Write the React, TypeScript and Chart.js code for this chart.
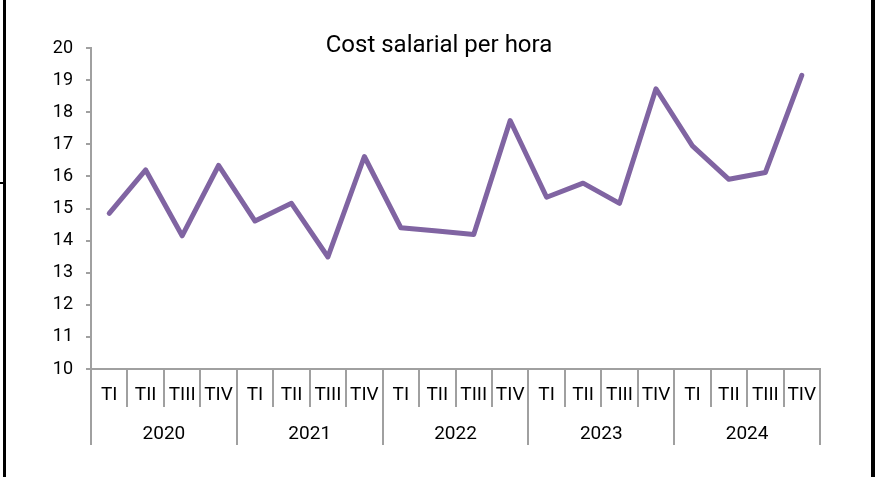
import React, { useEffect, useRef } from 'react';
import { Chart, registerables } from 'chart.js';

Chart.register(...registerables);

const chartTitle = 'Cost salarial per hora';
const years = ['2020', '2021', '2022', '2023', '2024'];
const quarterNames = ['TI', 'TII', 'TIII', 'TIV'];
const categories = years.flatMap(() => quarterNames);
const costPerHour = [
  14.85, 16.2, 14.15, 16.34,
  14.61, 15.16, 13.49, 16.62,
  14.4, 14.3, 14.19, 17.74,
  15.35, 15.79, 15.16, 18.73,
  16.95, 15.91, 16.12, 19.15,
];
const yMin = 10;
const yMax = 20;
const yStep = 1;

const FONT = 'Roboto, "Liberation Sans", sans-serif';
const GRAY = '#a0a0a0';
const LINE = '#8064A2';

export default function App() {
  const canvasRef = useRef<HTMLCanvasElement | null>(null);

  useEffect(() => {
    if (!canvasRef.current) return;
    const chart = new Chart(canvasRef.current, {
      type: 'line',
      data: {
        labels: categories,
        datasets: [
          {
            data: costPerHour,
            borderColor: LINE,
            backgroundColor: LINE,
            borderWidth: 5,
            pointRadius: 0,
            pointHoverRadius: 0,
            tension: 0,
            borderCapStyle: 'round',
            borderJoinStyle: 'round',
          },
        ],
      },
      options: {
        animation: false,
        responsive: false,
        maintainAspectRatio: false,
        layout: { padding: { left: 0, right: 56, top: 48, bottom: 32 } },
        plugins: {
          legend: { display: false },
          title: { display: false },
          tooltip: { enabled: false },
        },
        scales: {
          y: {
            min: yMin,
            max: yMax,
            ticks: {
              stepSize: yStep,
              color: '#000',
              padding: 13,
              font: { family: FONT, size: 18 },
            },
            grid: { drawOnChartArea: false, tickLength: 5, color: GRAY, lineWidth: 2 },
            border: { color: GRAY, width: 2 },
            afterFit: (s: any) => {
              s.width = 91;
            },
          },
          x: {
            type: 'category',
            offset: true,
            weight: 0,
            grid: { offset: true, drawOnChartArea: false, tickLength: 38, color: GRAY, lineWidth: 2 },
            border: { color: GRAY, width: 2 },
            ticks: {
              autoSkip: false,
              maxRotation: 0,
              minRotation: 0,
              padding: -23,
              color: '#000',
              font: { family: FONT, size: 19 },
            },
            afterFit: (s: any) => {
              s.height = 38;
            },
          },
          x2: {
            type: 'category',
            labels: years,
            position: 'bottom',
            offset: true,
            weight: 1,
            grid: { offset: true, drawOnChartArea: false, tickLength: 38, color: GRAY, lineWidth: 2 },
            border: { display: false },
            ticks: {
              autoSkip: false,
              maxRotation: 0,
              minRotation: 0,
              padding: -22,
              color: '#000',
              font: { family: FONT, size: 19 },
            },
            afterFit: (s: any) => {
              s.height = 38;
            },
          },
        },
      } as any,
    });
    return () => chart.destroy();
  }, []);

  return (
    <div
      style={{
        position: 'fixed',
        left: 0,
        top: 0,
        width: 876,
        height: 477,
        background: '#fff',
        overflow: 'hidden',
      }}
    >
      <canvas ref={canvasRef} width={876} height={477} style={{ display: 'block' }} />
      <div
        style={{
          position: 'absolute',
          left: 0,
          top: 30,
          width: 878,
          textAlign: 'center',
          fontFamily: FONT,
          fontSize: 24,
          lineHeight: '28px',
          color: '#000',
        }}
      >
        {chartTitle}
      </div>
      <div style={{ position: 'absolute', left: 3, top: 0, width: 3, height: 477, background: '#000' }} />
      <div style={{ position: 'absolute', left: 871, top: 0, width: 4, height: 477, background: '#000' }} />
      <div style={{ position: 'absolute', left: 0, top: 182, width: 5, height: 2, background: '#000' }} />
    </div>
  );
}
